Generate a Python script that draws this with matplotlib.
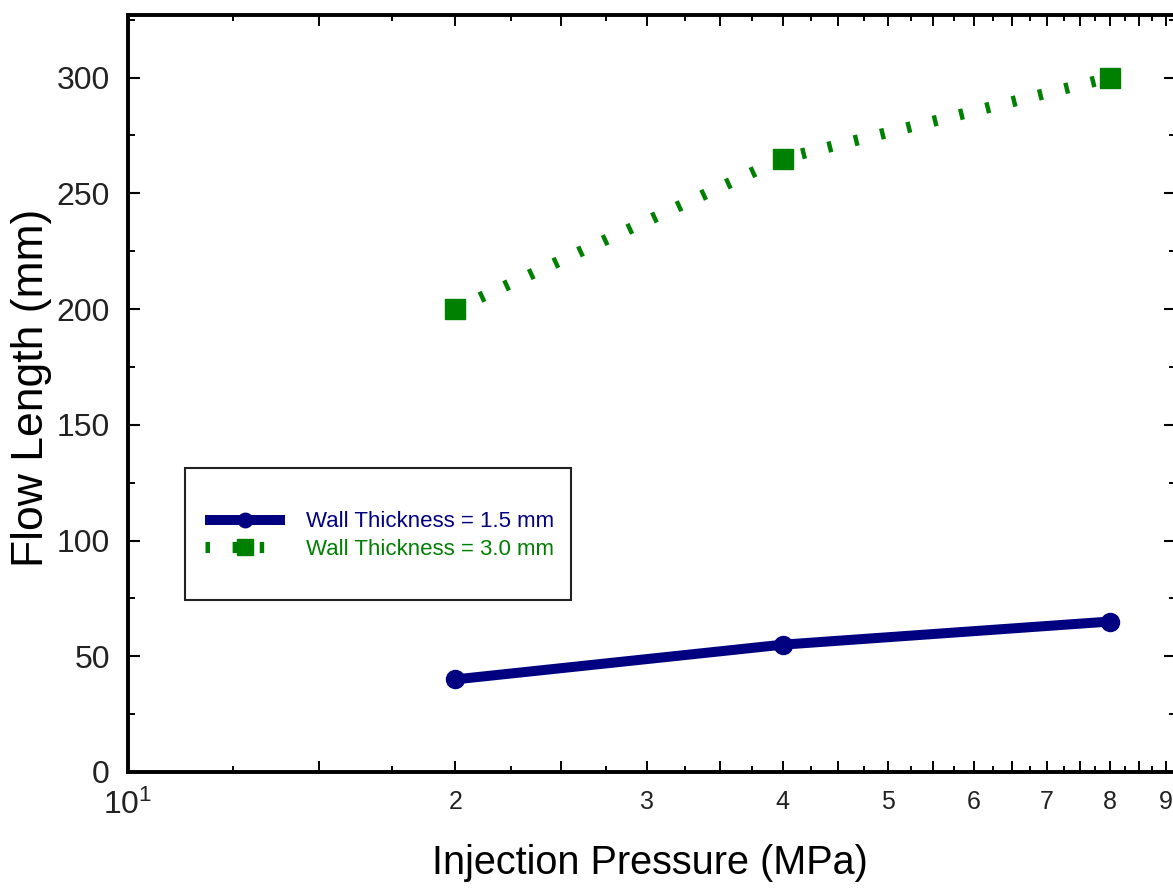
import matplotlib
matplotlib.use('Agg')
import matplotlib.pyplot as plt
from matplotlib.ticker import FixedLocator, FixedFormatter, NullFormatter
from matplotlib.patches import Rectangle

# ---- data ----
pressure = [20, 40, 80]
flow_wall_15 = [40, 55, 65]
flow_wall_30 = [200, 265, 300]
series_labels = ['Wall Thickness = 1.5 mm', 'Wall Thickness = 3.0 mm']
x_major_ticks = [10, 15, 20, 25, 30, 35, 40, 45, 50, 55, 60, 65, 70, 75, 80, 85, 90]
x_major_labels = ['$10^1$', '', '2', '', '3', '', '4', '', '5', '', '6', '', '7', '', '8', '', '9']
x_minor_ticks = [12.5, 17.5, 22.5, 27.5, 32.5, 37.5, 42.5, 47.5, 52.5, 57.5,
                 62.5, 67.5, 72.5, 77.5, 82.5, 87.5]
y_major_ticks = [0, 50, 100, 150, 200, 250, 300]
y_minor_ticks = [25, 75, 125, 175, 225, 275, 325]
x_label = 'Injection Pressure (MPa)'
y_label = 'Flow Length (mm)'

BLUE = '#000080'
GREEN = '#008000'
regular = ['Liberation Sans', 'DejaVu Sans']

plt.rcParams['font.family'] = regular
plt.rcParams['mathtext.fontset'] = 'custom'
plt.rcParams['mathtext.rm'] = 'Liberation Sans'
plt.rcParams['mathtext.it'] = 'Liberation Sans'
plt.rcParams['mathtext.bf'] = 'Liberation Sans'

fig = plt.figure(figsize=(11.73, 8.92), dpi=100)
ax = fig.add_axes([0.10912, 0.13453, 0.89344, 0.84865])

ax.plot(pressure, flow_wall_15, color=BLUE, lw=7.2, marker='o', ms=13,
        solid_capstyle='butt', label=series_labels[0], zorder=3)
ax.plot(pressure, flow_wall_30, color=GREEN, lw=8, marker='s', ms=14,
        linestyle=(0, (0.4, 2.04)), dash_capstyle='butt',
        label=series_labels[1], zorder=3)

ax.set_xscale('log')
ax.set_xlim(10, 92)
ax.set_ylim(0, 327)

ax.xaxis.set_major_locator(FixedLocator(x_major_ticks))
ax.xaxis.set_major_formatter(FixedFormatter(x_major_labels))
ax.xaxis.set_minor_locator(FixedLocator(x_minor_ticks))
ax.xaxis.set_minor_formatter(NullFormatter())
ax.yaxis.set_major_locator(FixedLocator(y_major_ticks))
ax.yaxis.set_minor_locator(FixedLocator(y_minor_ticks))
ax.yaxis.set_minor_formatter(NullFormatter())

ax.tick_params(axis='x', which='major', direction='in', length=8, width=1.4,
               top=True, labelsize=18, pad=13, colors='black')
ax.tick_params(axis='x', which='minor', direction='in', length=4, width=1.4, top=True)
ax.tick_params(axis='y', which='major', direction='in', length=8.6, width=1.5,
               right=True, labelsize=23, pad=13)
ax.tick_params(axis='y', which='minor', direction='in', length=5, width=1.4, right=True)
for lab in ax.get_xticklabels():
    lab.set_color('#222222')
ax.get_xticklabels()[0].set_fontsize(23)
for lab in ax.get_yticklabels():
    lab.set_color('#222222')

for sp in ax.spines.values():
    sp.set_linewidth(2.8)

ax.set_xlabel(x_label, fontsize=28.5)
ax.set_ylabel(y_label, fontsize=32)
ax.xaxis.set_label_coords(0.498, -0.095)
ax.yaxis.set_label_coords(-0.0725, 0.508)

frame = Rectangle((0.0544, 0.2272), 0.3683, 0.1744, transform=ax.transAxes,
                  facecolor='white', edgecolor='#222222', lw=1.5, zorder=4)
ax.add_patch(frame)
leg = ax.legend(loc='center left', bbox_to_anchor=(0.0735, 0.312), frameon=False,
                borderpad=0, borderaxespad=0, handlelength=3.6, handletextpad=0.95,
                labelspacing=0.3, markerscale=0.8, labelcolor='linecolor',
                prop={'size': 16})
leg.set_zorder(5)

fig.savefig('out.png', dpi=100)
